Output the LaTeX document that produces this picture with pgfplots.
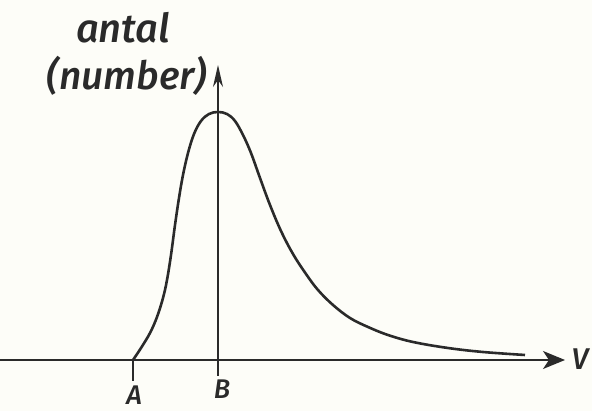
\documentclass[border=0pt]{standalone}
\usepackage{fontspec}
\setmainfont{Fira Sans}
\newfontfamily\hand{Fira Sans Medium Italic}
\usepackage{pgfplots}
\pgfplotsset{compat=1.18}
\usetikzlibrary{arrows.meta}
\definecolor{ink}{RGB}{42,42,42}
\definecolor{paper}{RGB}{253,253,248}
\begin{document}
\begin{tikzpicture}
\begin{axis}[
  x=1pt, y=1pt,
  axis lines=middle,
  axis on top,
  xmin=-218, xmax=347,
  ymin=-16, ymax=295,
  clip=false,
  axis line style={ink, line width=1.6pt},
  x axis line style={-{Stealth[length=22pt,width=18pt,inset=6pt]}},
  y axis line style={-{Stealth[length=22pt,width=10pt,inset=7pt]}},
  xtick=\empty, ytick=\empty,
]
\fill[paper] (axis cs:-218,-51) rectangle (axis cs:374,360);
\coordinate (bl) at (axis cs:-218,-51);
\coordinate (tr) at (axis cs:374,360);
\addplot[ink, line width=2.6pt, smooth, tension=0.6] coordinates {
 (-85,0) (-77,12) (-68,27) (-61,43) (-55,62) (-51,80) (-47,105) (-43,135)
 (-39,162) (-35,185) (-30,207) (-24,226) (-17,239) (-9,246) (0,248) (9,246)
 (17,239) (25,225) (33,207) (42,182) (52,155) (63,129) (75,106) (88,86)
 (100,70) (115,55) (132,42) (150,33) (170,25) (195,18) (230,12) (265,8) (307,5)
};
\addplot[ink, line width=2.2pt] coordinates {(-85,0) (-85,-21)};
\node[anchor=center, inner sep=0pt, text=ink, font=\fontsize{27}{31}\hand] at (axis cs:-84,-35) {A};
\node[anchor=center, inner sep=0pt, text=ink, font=\fontsize{27}{31}\hand] at (axis cs:4,-29) {B};
\node[anchor=base, text=ink, font=\fontsize{40}{46}\hand] at (axis cs:-95,317) {antal};
\node[anchor=base, text=ink, font=\fontsize{39}{46}\hand] at (axis cs:-91,270) {(number)};
\node[anchor=center, text=ink, font=\fontsize{30}{36}\hand] at (axis cs:362,1) {V};
\end{axis}
\pgfresetboundingbox
\useasboundingbox (bl) rectangle (tr);
\end{tikzpicture}
\end{document}
